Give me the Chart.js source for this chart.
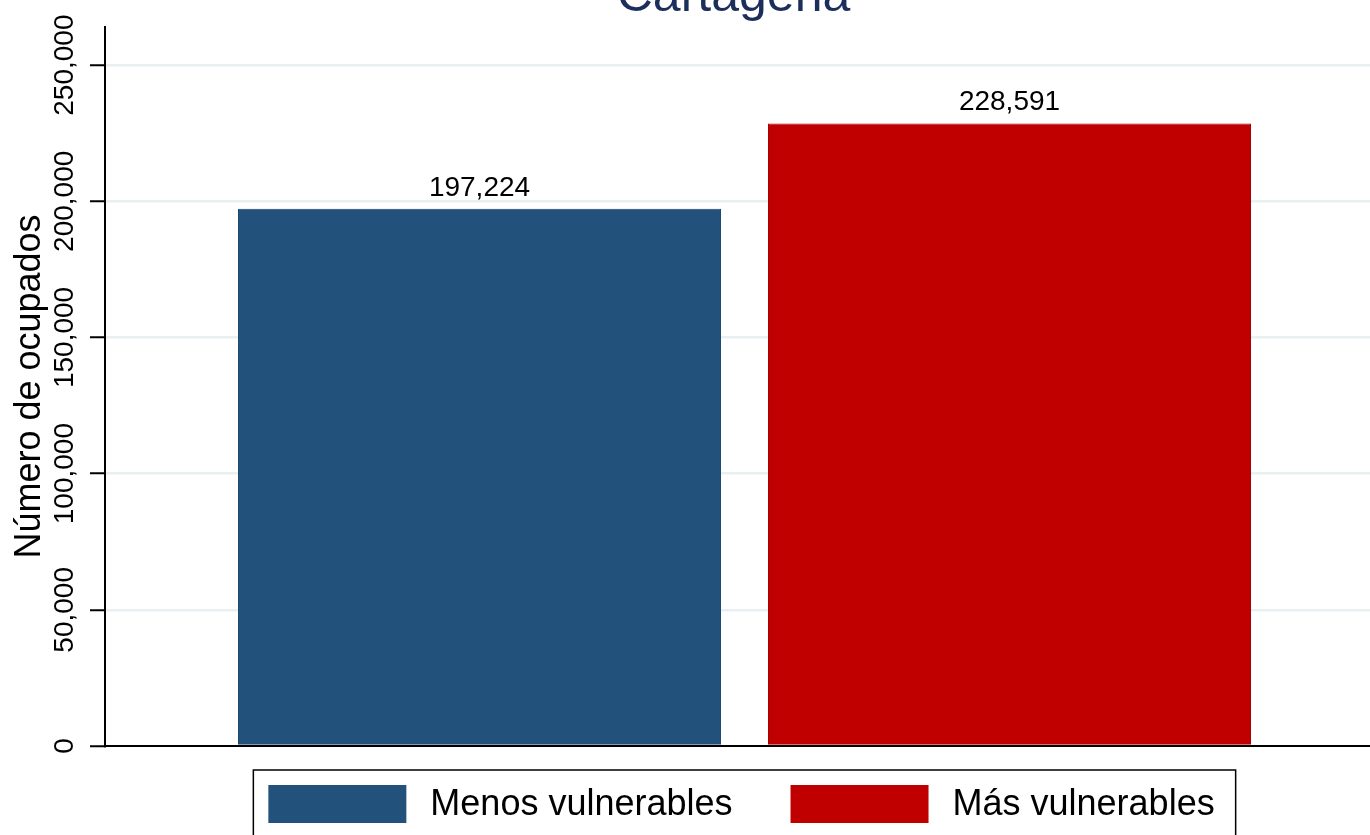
<!DOCTYPE html>
<html>
<head>
<meta charset="utf-8">
<title>Cartagena</title>
<script src="https://cdn.jsdelivr.net/npm/chart.js@4/dist/chart.umd.min.js"></script>
<style>
  html, body { margin: 0; padding: 0; background: #fff; overflow: hidden; }
  #wrap { width: 1400px; height: 835px; }
</style>
</head>
<body>
<div id="wrap"><canvas id="chart" width="1400" height="835"></canvas></div>
<script>
const chartTitle = 'Cartagena';
const axisTitle = 'Número de ocupados';
const groups = ['Menos vulnerables', 'Más vulnerables'];
const occupied = [197224, 228591];
const yTicks = [0, 50000, 100000, 150000, 200000, 250000];
const yMax = 264000;

const FONT = '"Liberation Sans", Arial, sans-serif';
const fmt = v => v.toLocaleString('en-US');

// title sits partly above the canvas, like the cropped original
const titlePlugin = {
    id: 'topTitle',
    afterDraw(chart) {
        const ctx = chart.ctx;
        const a = chart.chartArea;
        ctx.save();
        ctx.font = '50px ' + FONT;
        ctx.fillStyle = '#1c2e5c';
        ctx.textAlign = 'center';
        ctx.textBaseline = 'alphabetic';
        ctx.fillText(chartTitle, (a.left + a.right) / 2 - 11, 11);
        ctx.restore();
    }
};

const valueLabels = {
    id: 'valueLabels',
    afterDatasetsDraw(chart) {
        const ctx = chart.ctx;
        ctx.save();
        ctx.font = '28px ' + FONT;
        ctx.fillStyle = '#000';
        ctx.textAlign = 'center';
        ctx.textBaseline = 'alphabetic';
        chart.data.datasets.forEach((ds, i) => {
            const bar = chart.getDatasetMeta(i).data[0];
            ctx.fillText(fmt(ds.data[0]), bar.x, bar.y - 13);
        });
        ctx.restore();
    }
};

// framed legend under the plot
const boxedLegend = {
    id: 'boxedLegend',
    afterDraw(chart) {
        const ctx = chart.ctx;
        const a = chart.chartArea;
        const dsets = chart.data.datasets;
        ctx.save();
        ctx.font = '36px ' + FONT;
        const widths = dsets.map(d => ctx.measureText(d.label).width);
        const boxW = 138, boxH = 38, gapText = 24, gapItem = 58, padL = 15, padR = 21;
        let total = padL + padR;
        widths.forEach((w, i) => { total += boxW + gapText + w + (i ? 0 : gapItem); });
        const left = (a.left + a.right) / 2 - total / 2;
        const top = a.bottom + 24;
        ctx.strokeStyle = '#000';
        ctx.lineWidth = 1.5;
        ctx.strokeRect(left, top, total, 70);
        let x = left + padL;
        dsets.forEach((d, i) => {
            ctx.fillStyle = d.backgroundColor;
            ctx.fillRect(x, top + 15, boxW, boxH);
            ctx.fillStyle = '#000';
            ctx.textAlign = 'left';
            ctx.textBaseline = 'middle';
            ctx.fillText(d.label, x + boxW + gapText, top + 15 + boxH / 2 + 1);
            x += boxW + gapText + widths[i] + gapItem;
        });
        ctx.restore();
    }
};

const ctx = document.getElementById('chart').getContext('2d');
const chart = new Chart(ctx, {
    type: 'bar',
    data: {
        labels: [''],
        datasets: [
            {
                label: groups[0],
                data: [occupied[0]],
                backgroundColor: '#22517b',
                borderColor: '#1d4770',
                borderWidth: 1
            },
            {
                label: groups[1],
                data: [occupied[1]],
                backgroundColor: '#c00000',
                borderColor: '#a80000',
                borderWidth: 1
            }
        ]
    },
    options: {
        responsive: false,
        animation: false,
        devicePixelRatio: 1,
        categoryPercentage: 0.8288,
        barPercentage: 0.9113,
        layout: { padding: { top: 27, right: 16, bottom: 89, left: 0 } },
        plugins: {
            legend: { display: false },
            tooltip: { enabled: false },
            title: { display: false }
        },
        scales: {
            x: {
                grid: { display: false },
                border: { display: true, color: '#000', width: 2 },
                ticks: { display: false },
                afterFit: s => { s.height = 0; }
            },
            y: {
                min: 0,
                max: yMax,
                afterBuildTicks: s => { s.ticks = yTicks.map(v => ({ value: v })); },
                afterFit: s => { s.width = 105; },
                border: { display: true, color: '#000', width: 2 },
                grid: {
                    color: ctx => ctx.tick && ctx.tick.value === 0 ? 'rgba(0,0,0,0)' : '#e9f0f2',
                    lineWidth: 2.5,
                    tickColor: '#000',
                    tickLength: 15,
                    tickWidth: 2
                },
                ticks: {
                    minRotation: 90,
                    maxRotation: 90,
                    crossAlign: 'center',
                    padding: -26,
                    color: '#000',
                    font: { family: FONT, size: 28 },
                    callback: v => fmt(v)
                },
                title: {
                    display: true,
                    text: axisTitle,
                    color: '#000',
                    font: { family: FONT, size: 36 },
                    padding: { top: 8, bottom: 0 }
                }
            }
        }
    },
    plugins: [titlePlugin, valueLabels, boxedLegend]
});
</script>
</body>
</html>
